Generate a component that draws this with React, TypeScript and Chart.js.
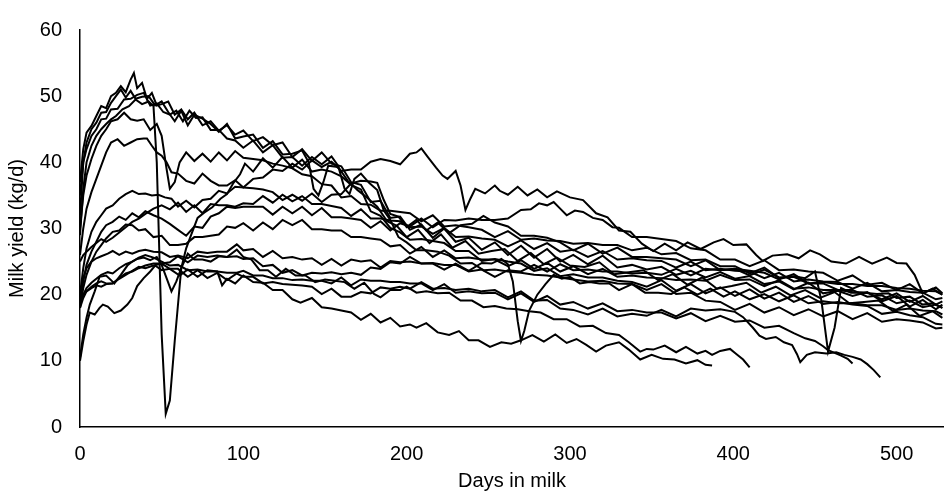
import React, { useEffect, useRef } from "react";
import { Chart, registerables } from "chart.js";

Chart.register(...registerables);

// [day in milk, milk yield kg/d]
const cowA = [[0,37],[2,42],[4,44.5],[7,45.5],[10,47],[13,48.5],[16,48.2],[19,50],[22,50.5],[25,51.5],[28,50.6],[31,52.5],[33,53.5],[35,51.2],[38,52],[41,49.6],[44,50.5],[47,48.6],[50,48.8],[54,49.2],[58,47.2],[62,48],[66,46.5],[70,47.5],[75,45.6],[80,46.2],[85,44.8],[90,45.6],[95,44.2],[100,44.8],[106,43.2],[112,43.8],[118,42.6],[124,43],[130,40.8],[136,42],[142,40.2],[148,41.5],[154,39.8],[160,39.4],[166,37],[172,36.6],[178,34],[184,34.2],[190,31.6],[196,31.8],[202,29.8],[209,30.6],[216,28.6],[223,30],[230,28],[238,28.6],[246,26.8],[254,27.9],[262,26],[270,27.4],[278,25.6],[286,26.9],[294,25],[302,26],[311,24.6],[320,25.9],[329,24.1],[338,24.5],[347,23.8],[356,24.2],[365,23],[374,23.6],[383,22.6],[392,23.4],[401,22.4],[410,22.8],[419,21.6],[428,22],[437,20.8],[446,21.8],[455,20.2],[464,20.6],[473,19.8],[482,20.4],[491,19],[500,19.8],[508,18.2],[516,19.2],[524,17.8],[528,18.5]];
const cowB = [[0,32],[2,40],[4,43],[7,45],[10,46],[13,47.5],[16,47.6],[19,49],[22,50],[25,51],[28,49.8],[31,50.8],[34,49.6],[38,49.9],[42,50],[46,48.6],[50,49.2],[54,47.6],[58,46.2],[62,47.8],[66,45.6],[70,47.2],[75,46.6],[80,45.8],[85,44.6],[90,45.8],[95,43.6],[100,43.9],[106,44.2],[112,42.2],[118,43.2],[124,41.2],[130,41.3],[136,41.8],[140,40],[143,36],[146,35],[149,37],[152,39.5],[158,39.3],[164,37.2],[170,35.8],[176,34.6],[182,33.3],[188,31.1],[194,30.4],[200,28.7],[207,29.8],[214,27.8],[221,29.1],[228,27.1],[236,28.1],[244,26.2],[252,26.6],[260,26.9],[268,25.1],[276,26.3],[284,24.6],[292,25.6],[300,24.4],[309,24.2],[318,24.9],[327,23.1],[336,23.4],[345,23.7],[354,22.2],[363,23.1],[372,21.5],[381,22.6],[390,20.9],[399,21.3],[408,21.8],[417,20.3],[426,21.2],[435,19.9],[444,20.7],[453,19.5],[462,20.4],[471,18.7],[480,18.9],[489,19.1],[498,17.5],[506,18.5],[514,16.8],[522,17.5],[528,16.5]];
const cowC = [[0,29],[2,36],[4,40],[7,42.5],[10,44],[13,45],[16,45.8],[19,46.5],[22,47],[26,48],[30,48.5],[34,49.5],[38,48.8],[42,49.2],[45,48.5],[47,40],[50,14],[52.5,2],[55,4],[58,13],[62,24],[65,27],[68,29],[72,31.6],[76,32.4],[81,33.2],[86,34.5],[90,35.2],[94,36.9],[98,38.2],[101,39.8],[106,38.6],[112,40.6],[118,39.2],[124,40.8],[130,39.2],[136,40.4],[142,38.6],[148,38.9],[154,38.6],[160,37.9],[166,36.6],[172,35.9],[178,32.6],[184,31.9],[190,30.1],[196,29.4],[202,28.3],[209,28.4],[216,28.1],[223,27.8],[230,26.6],[238,26.6],[246,25.1],[254,25.4],[262,25],[270,24.7],[278,23.6],[286,24],[294,22.8],[302,23.1],[311,22.6],[320,22.6],[329,22.1],[338,21.9],[347,21.2],[356,22.2],[365,20.6],[374,21.6],[383,20.2],[392,21.1],[401,19.8],[410,20.8],[419,19.4],[428,20.3],[437,18.9],[446,19.8],[455,18.6],[464,18.9],[473,18.5],[482,18.3],[491,17.1],[500,17.4],[508,16.9],[516,16.6],[524,15.6],[528,15.5]];
const cowD = [[0,35],[2,40],[4,42],[7,44],[10,45],[13,46.5],[16,46.6],[19,48],[23,48.1],[27,49.5],[31,49.6],[35,50.2],[39,50.5],[43,48.6],[47,48.9],[51,47.6],[55,47.2],[59,47.8],[63,46.2],[67,47.8],[71,46.7],[75,46.8],[80,44.9],[85,44.9],[90,43.6],[95,43.3],[100,42.2],[106,43.3],[112,41.5],[118,42.6],[124,40.7],[130,40.8],[136,39.5],[142,40.8],[148,39.7],[154,40.9],[158,39.5],[162,36],[165,35.2],[168,37.5],[172,38.3],[177,36.9],[182,35.8],[186,32.7],[190,31.3],[195,28.7],[200,27.9],[206,26.7],[212,26.7],[219,26.5],[226,25.9],[233,24.7],[240,24.8],[247,23.7],[254,23.8],[262,23.5],[270,23.3],[278,23],[286,22.9],[294,22.6],[302,22.3],[311,22],[320,22.1],[329,21.7],[338,21.6],[347,20.7],[356,21.6],[365,20.1],[374,20.3],[383,19.1],[392,18.9],[401,17.7],[410,18.6],[419,17.3],[428,18.1],[437,16.9],[446,17.8],[455,16.7],[464,17.5],[473,16.3],[482,17.2],[491,15.9],[500,16.3],[508,16.1],[516,15.8],[524,14.9],[528,15]];
const cowE = [[0,30],[2,35],[4,38],[7,40.5],[10,42.5],[13,44],[16,45],[19,46.2],[23,46.5],[27,47.5],[31,46.5],[35,46.3],[39,46.5],[43,44.9],[47,45.8],[50,44],[53,39],[55,36],[58,37],[61,40],[65,41.5],[70,40.2],[75,41.3],[80,40.1],[85,41.5],[90,40.3],[95,41.7],[100,40.7],[106,40.5],[112,40.3],[118,39.8],[124,39.5],[130,39.1],[136,38.2],[142,37.9],[148,36.7],[154,36.5],[160,34.7],[166,34.9],[172,33.7],[178,33.6],[184,32.7],[190,32.7],[196,32.5],[202,32.3],[209,31.1],[216,32],[223,30.3],[230,30.5],[238,30.2],[246,29.8],[254,28.7],[262,29.6],[270,28.3],[278,28.5],[286,28.2],[294,28.1],[302,27.7],[311,27.8],[320,27.5],[329,27.5],[338,26.7],[347,27.1],[356,26.1],[365,26.3],[374,25.2],[383,25.3],[392,24.3],[401,24.3],[410,23.2],[419,24.1],[428,22.5],[437,22.7],[446,21.7],[455,21.7],[464,20.7],[473,20.7],[482,19.7],[491,19.9],[500,18.7],[508,19.1],[516,18.1],[524,18.5],[528,18]];
const cowF = [[0,26],[2,30],[4,33],[7,35.5],[10,37.5],[13,39.5],[16,41.5],[19,43],[23,43.5],[27,42.5],[31,43],[35,43.5],[39,43.6],[41,43.6],[44,42.5],[47,41.5],[50,41],[53,40],[56,38.5],[60,38.3],[65,37.2],[70,36.8],[75,38.3],[80,37.2],[85,36.5],[90,36.5],[95,37.3],[100,36.2],[106,36.1],[112,35.9],[118,35.5],[124,34.3],[130,35.1],[136,34.2],[142,35.3],[148,34],[154,35.1],[160,35.2],[166,36.8],[172,37.2],[178,37.1],[182,36.9],[186,34.3],[190,32.2],[195,31.8],[200,30.2],[206,31.3],[212,29.7],[219,30.9],[226,29.3],[233,30.5],[240,30.7],[247,31.9],[254,30.9],[262,30.3],[270,28.9],[278,28.9],[286,28.6],[294,27.9],[302,26.7],[311,27.7],[320,26.2],[329,27.1],[338,25.7],[347,25.7],[356,25.5],[365,25.3],[374,24.3],[383,25.2],[392,23.7],[401,23.9],[410,23.6],[419,23.3],[428,22.3],[437,23.1],[446,21.7],[455,21.9],[464,21.6],[473,21.6],[482,21.3],[491,21.3],[500,21],[508,20.9],[516,20.6],[524,20.5],[528,20]];
const cowG = [[0,20],[2,24],[4,27],[7,29.5],[10,31],[13,32],[16,33],[20,33.5],[24,34.5],[28,35.2],[32,35.7],[36,35.2],[40,35.3],[44,35],[48,35.1],[52,34.7],[56,34.5],[60,33.3],[65,34.2],[70,33.2],[75,34.3],[80,34.5],[85,35.7],[90,35.3],[95,36.3],[100,36.2],[106,37.5],[112,37.7],[118,38.9],[124,38.7],[130,39.8],[136,38.9],[142,40.3],[148,39.3],[154,40.1],[160,38.7],[166,38.9],[172,38.9],[178,40.1],[184,40.5],[190,40.2],[196,39.7],[202,41.3],[206,41.5],[209,42.1],[213,40.8],[218,39.2],[222,38],[225,37.5],[230,38.7],[233,36.5],[236,32.8],[239,34.5],[242,36],[248,35.3],[254,36.5],[257,35.7],[262,35.1],[268,36.3],[274,35],[280,35.9],[286,34.7],[292,35.6],[300,34.7],[308,34.3],[316,32.3],[323,31.7],[330,29.7],[337,29.5],[344,27.7],[351,26.6],[358,27.7],[365,26.7],[372,27.9],[380,26.9],[388,27.9],[394,28.4],[400,27.5],[408,27.6],[414,26],[418,25.1],[424,25.9],[433,26.1],[440,25.5],[447,26.7],[453,26.1],[460,25],[469,24.7],[477,25.7],[485,24.7],[494,25.6],[500,24.8],[506,24.7],[511,23],[516,20.2],[522,20.9],[528,20]];
const cowH = [[0,19],[2,22],[4,24.5],[7,26.5],[10,28],[13,29.5],[16,30.5],[20,31],[24,31.8],[28,31.3],[32,32.3],[36,31.7],[40,32.6],[45,32],[50,31.5],[55,30.7],[60,29.8],[65,28.9],[70,30.3],[75,30.1],[80,31.8],[85,32.3],[90,33.3],[95,33.1],[100,33.3],[106,33.3],[112,33.3],[118,32.1],[124,33.3],[130,32.3],[136,33.3],[142,32],[148,33.1],[154,31.7],[160,31.7],[166,31.5],[172,31.3],[178,30.1],[184,31.1],[190,29.7],[196,30.8],[202,30.3],[209,31.5],[216,30.2],[223,31.3],[230,31.2],[238,31.5],[246,31.3],[254,31.3],[262,31.5],[270,32.8],[276,32.9],[281,33.8],[286,33.5],[290,34],[294,33],[298,32],[303,32.7],[308,32.5],[314,31.6],[320,31.3],[326,30.2],[330,30.1],[338,28.7],[347,28.7],[356,28.4],[365,28.1],[374,27],[383,26.7],[392,25.3],[401,25.3],[410,24.3],[419,25.2],[428,23.7],[437,23.8],[446,23.5],[455,23.3],[464,22.1],[473,22.9],[482,21.5],[491,21.8],[500,20.7],[508,21.6],[516,20.2],[524,21.1],[528,20.2]];
const cowI = [[0,18],[2,21],[4,23],[7,25],[10,26.5],[13,27.5],[16,28.5],[20,29.5],[24,29.7],[28,30.6],[32,30.5],[36,29.7],[40,29.9],[45,28.7],[50,28.9],[55,27.5],[60,27.5],[65,27.7],[70,28.7],[75,28.7],[80,28.9],[85,29.1],[90,30.3],[95,30.1],[100,30.8],[106,29.7],[112,30.9],[118,29.9],[124,31.3],[130,30.5],[136,31.3],[142,29.9],[148,29.9],[154,29.7],[160,29.7],[166,28.7],[172,28.7],[178,28.5],[184,28.3],[190,27.3],[196,27.5],[202,26.2],[209,27.2],[216,25.7],[223,26.7],[230,25.5],[238,25.6],[246,25.3],[254,25.3],[262,24.3],[270,25.2],[278,23.9],[286,24.8],[294,23.5],[302,24.3],[311,23.1],[320,23.9],[329,22.7],[338,22.9],[347,22.6],[356,22.5],[365,22.2],[374,22.3],[383,22.1],[392,23],[401,22.2],[410,22.3],[419,21.3],[428,22.2],[437,20.9],[446,21.1],[455,20.7],[464,20.7],[473,20.4],[482,20.3],[491,19.3],[500,20.2],[508,18.9],[516,19.8],[524,18.5],[528,19]];
const cowJ = [[0,25],[2,26],[4,26.5],[7,27.2],[10,27.8],[13,28.4],[16,28],[20,28.6],[24,29.4],[28,30.2],[32,31],[36,31.5],[40,32.2],[45,33],[50,33.5],[55,32.9],[60,33.9],[65,32.5],[70,33.5],[75,32.3],[80,33.7],[85,33.5],[90,33.5],[95,33.3],[100,33.8],[106,33.7],[112,34.9],[118,33.9],[124,35.1],[130,34.1],[136,34.9],[142,33.7],[148,33.7],[154,33.4],[160,33.1],[166,31.9],[172,32.9],[178,31.5],[184,31.5],[190,31.2],[196,31.1],[202,30.2],[209,30.3],[216,29.2],[223,30.1],[230,28.7],[238,28.8],[246,28.5],[254,28.3],[262,27.3],[270,28.2],[278,26.9],[286,27.8],[294,26.5],[302,26.8],[311,25.7],[320,26.6],[329,25.3],[338,25.5],[347,25.2],[356,25.1],[365,24.1],[374,25],[383,23.7],[392,23.9],[401,23.6],[410,23.5],[419,22.5],[428,23.3],[437,22],[446,22.3],[455,22],[464,21.9],[473,20.9],[482,21.8],[491,20.5],[500,20.7],[508,20.4],[516,20.3],[524,19.3],[528,19.5]];
const cowK = [[0,10],[2,13],[4,15.5],[6,17.3],[9,17],[12,18],[14,18.5],[17,18.2],[21,17.2],[25,17.6],[29,18.5],[32,19.5],[35,21.3],[39,22.5],[43,23.5],[46,24.4],[50,23.7],[55,23.9],[61,22.9],[66,23.8],[72,22.7],[78,23.7],[84,23.5],[87,21.4],[90,22.4],[95,21.7],[100,22.9],[106,21.9],[112,21.8],[118,20.7],[124,20.7],[130,19.3],[135,18.8],[142,19.5],[148,18.1],[154,17.9],[160,17.6],[166,17.3],[172,16.2],[178,17.1],[184,15.8],[190,16.5],[196,15.2],[202,15.5],[206,15],[212,15.7],[219,14.3],[226,13.9],[232,14.5],[238,13.1],[244,13.1],[251,12.1],[258,12.8],[264,12.6],[270,13.1],[277,13.9],[284,12.9],[291,14],[298,12.7],[304,13.3],[310,12.4],[316,11.4],[322,12.3],[330,12.8],[336,11.7],[343,10.2],[350,10.9],[357,10.3],[364,10.2],[371,9.6],[378,10.1],[383,9.4],[387,9.3]];
const cowL = [[0,10.5],[2,14],[4,16.5],[6,18.5],[9,20.5],[12,22.7],[16,22.9],[19,22.2],[21,21.7],[25,23],[29,24.4],[32,25],[35,25.4],[39,25.6],[43,25.2],[47,25.7],[50,24.5],[53,22.5],[56,20.5],[59,22],[62,24],[66,26.2],[70,25.3],[75,25.3],[80,25],[85,25.8],[90,25.7],[96,26.8],[100,25.7],[105,25.3],[110,23.7],[115,23.7],[120,22.7],[126,23.9],[132,22.9],[138,22.9],[144,21.9],[150,22.3],[156,22.1],[162,21.9],[168,20.9],[174,21.8],[180,20.1],[184,19.6],[190,20.7],[196,20.7],[200,21.2],[206,20.3],[212,20.5],[219,20.2],[226,20.3],[233,19.1],[240,19.1],[247,18.1],[254,18.3],[261,17.9],[268,17.8],[275,17.5],[282,17.3],[290,16.3],[298,16.3],[306,15.2],[314,15.3],[322,14.2],[330,13.9],[336,12.8],[343,11.4],[347,11.8],[351,11.7],[358,12.3],[365,11.3],[371,12.1],[378,11.1],[383,11.5],[387,10.9],[392,11.5],[398,11.8],[402,11],[406,10.2],[410,9]];
const cowM = [[0,19],[2,20],[4,21],[7,21.8],[10,22.4],[13,23],[17,23.4],[20,23.2],[24,24],[28,24.6],[32,25],[36,25.6],[40,26],[45,25.6],[50,25],[55,24.4],[60,24.5],[66,23.7],[72,23.8],[78,23.5],[84,23.5],[90,23.3],[96,23.3],[100,23.6],[106,22.9],[112,22.9],[118,22.5],[124,22.5],[130,22.2],[136,22.3],[142,22.1],[148,22.1],[154,21.7],[160,22.6],[166,21.4],[172,22.3],[178,22.1],[184,22.1],[190,21.9],[196,21.9],[202,21.7],[209,21.7],[216,20.7],[223,21.6],[230,20.3],[238,20.5],[246,20.2],[254,20.3],[262,19.3],[270,20.2],[278,18.9],[286,19.8],[294,18.5],[302,18.9],[311,17.9],[320,18.7],[329,17.5],[338,17.7],[347,17.3],[356,17.3],[365,16.4],[374,17.2],[383,16],[392,16.8],[401,15.9],[410,16.1],[419,15],[428,15.3],[437,14.2],[444,13.4],[450,13],[455,12.2],[458,11.6],[462,11.2],[466,10.8],[470,10.3],[473,9.6]];
const cowN = [[0,18],[2,19.5],[4,20.5],[7,21.2],[10,21.7],[13,22],[17,21.6],[20,21.7],[24,22.5],[28,23.2],[32,23.5],[36,24],[40,24.4],[45,24.7],[50,24.7],[55,23.9],[60,23.9],[66,22.7],[72,23.7],[78,22.5],[84,23.3],[90,22.2],[96,23.2],[100,22.7],[106,22.7],[112,21.7],[118,21.9],[124,21.6],[130,21.5],[136,21.4],[142,21.2],[148,20.1],[154,20.9],[160,19.7],[166,19.7],[172,20.4],[178,20.2],[184,21.1],[190,20.9],[196,21.2],[202,20.9],[209,21.9],[216,20.9],[223,21],[230,20.7],[238,20.9],[246,20.5],[254,20.7],[262,19.6],[270,20.5],[278,19.1],[286,19.2],[294,17.9],[302,17.7],[311,17],[320,17.9],[329,16.7],[338,17.1],[347,16.8],[356,17.7],[365,16.7],[374,17.9],[383,17.6],[392,17.8],[401,17.4],[406,16.6],[412,15],[416,13.8],[420,13.3],[426,13.6],[431,12.8],[436,12.4],[439,11],[441,9.8],[445,10.9],[450,11.3],[457,11.1],[463,11.3],[468,10.9],[473,10.6],[478,10.2],[482,9.5],[486,8.6],[490,7.5]];
const cowO = [[0,20],[2,22.5],[4,24],[7,25],[10,25.5],[13,25.8],[17,26.2],[20,26.6],[24,26],[28,26.5],[32,26.2],[36,26.6],[40,26.8],[45,26.5],[50,26.4],[55,25.7],[60,25.9],[66,25.5],[72,26.5],[78,26.3],[84,26.5],[90,26.5],[96,27.6],[100,26.7],[106,26.9],[112,25.7],[118,26.6],[124,25.5],[130,25.7],[136,25.3],[142,25.5],[148,24.5],[154,25.4],[160,24.4],[166,25.3],[172,25],[178,25.2],[184,24.1],[190,25.1],[196,24.9],[202,25],[209,24.7],[216,24.7],[223,23.8],[230,24.7],[238,23.6],[246,24.8],[252,24.7],[258,25.4],[262,24.6],[265,22],[268,16],[270,13],[272,14.5],[275,17.6],[280,20],[285,21.6],[290,23],[295,22.4],[300,22.7],[306,21.7],[312,21.9],[318,21.7],[324,21.7],[330,20.7],[338,21.6],[346,20.3],[354,20.3],[362,20.1],[370,21.1],[378,20],[386,20.9],[394,19.7],[401,20.5],[410,19.3],[419,20.1],[428,19],[437,19.9],[446,18.7],[455,19],[464,18.7],[473,18.7],[482,18.4],[491,18.4],[500,17.7],[508,17.9],[516,17.6],[524,17.5],[528,17]];
const cowP = [[0,19],[2,20],[4,20.5],[7,21],[10,21.4],[13,21.2],[17,21.7],[20,21.7],[24,22.4],[28,23],[32,23.6],[36,24.2],[40,24],[45,24.4],[50,24.7],[55,24.9],[60,25.8],[66,24.9],[72,25.9],[78,25.7],[84,25.9],[90,25.7],[96,25.8],[100,25.4],[106,25.5],[112,24.3],[118,24.5],[124,23.3],[130,23.7],[136,22.9],[142,23.3],[148,23.2],[154,23.4],[160,23.1],[166,23.3],[172,23],[178,24.1],[184,23.9],[190,24.9],[196,24.7],[202,25.7],[209,24.7],[216,24.8],[223,24.5],[230,24.5],[238,23.5],[246,23.8],[254,22.7],[262,23.7],[270,23.5],[278,24.5],[286,23.5],[294,24.6],[302,23.7],[311,23.8],[320,23.5],[329,23.5],[338,23.2],[347,23.3],[356,23],[365,23.9],[374,22.9],[383,23.9],[392,23.7],[401,23.9],[410,22.9],[419,23.8],[428,22.6],[437,22.8],[444,22.5],[450,23.5],[454,19],[458,11.4],[462,15],[466,21],[472,20.3],[480,20.3],[488,20.1],[495,20.2],[500,19.5],[508,19.7],[516,18.5],[522,18.7],[528,18]];

const cows = [cowA, cowB, cowC, cowD, cowE, cowF, cowG, cowH, cowI, cowJ, cowK, cowL, cowM, cowN, cowO, cowP];

const xTicks = [0, 100, 200, 300, 400, 500];
const yTicks = [0, 10, 20, 30, 40, 50, 60];

const FONT = "'Liberation Sans', Arial, sans-serif";

export default function App() {
  const ref = useRef<HTMLCanvasElement | null>(null);

  useEffect(() => {
    const canvas = ref.current;
    if (!canvas) return;
    const chart = new Chart(canvas, {
      type: "line",
      data: {
        datasets: cows.map((c, i) => ({
          label: "Cow " + (i + 1),
          data: c.map(([x, y]) => ({ x, y })),
          borderColor: "#000",
          borderWidth: 2,
          pointRadius: 0,
          fill: false,
          tension: 0,
        })),
      },
      options: {
        responsive: false,
        animation: false,
        devicePixelRatio: 1,
        layout: { padding: { top: 21, right: 0, bottom: 0, left: 0 } },
        plugins: { legend: { display: false }, tooltip: { enabled: false } },
        scales: {
          x: {
            type: "linear",
            min: 0,
            max: 529,
            afterBuildTicks: (s: any) => {
              s.ticks = xTicks.map((v) => ({ value: v }));
            },
            afterFit: (s: any) => {
              s.height = 64;
            },
            grid: { display: false, drawTicks: false },
            border: { display: true, color: "#000", width: 1.5 },
            ticks: { font: { family: FONT, size: 20 }, color: "#000", padding: 15, maxRotation: 0 },
            title: {
              display: true,
              text: "Days in milk",
              font: { family: FONT, size: 20 },
              color: "#000",
              padding: { top: 0, bottom: -2 },
            },
          },
          y: {
            min: 0,
            max: 60,
            afterBuildTicks: (s: any) => {
              s.ticks = yTicks.map((v) => ({ value: v }));
            },
            afterFit: (s: any) => {
              s.width = 80;
            },
            grid: { display: false, drawTicks: false },
            border: { display: true, color: "#000", width: 1.5 },
            ticks: { font: { family: FONT, size: 20 }, color: "#000", padding: 18 },
            title: {
              display: true,
              text: "Milk yield (kg/d)",
              font: { family: FONT, size: 20 },
              color: "#000",
              padding: { top: 5, bottom: 0 },
            },
          },
        },
      },
    } as any);
    return () => chart.destroy();
  }, []);

  return (
    <div style={{ position: "fixed", left: 0, top: 0, width: 944, height: 491, background: "#fff" }}>
      <canvas ref={ref} width={944} height={491} style={{ display: "block" }} />
    </div>
  );
}
